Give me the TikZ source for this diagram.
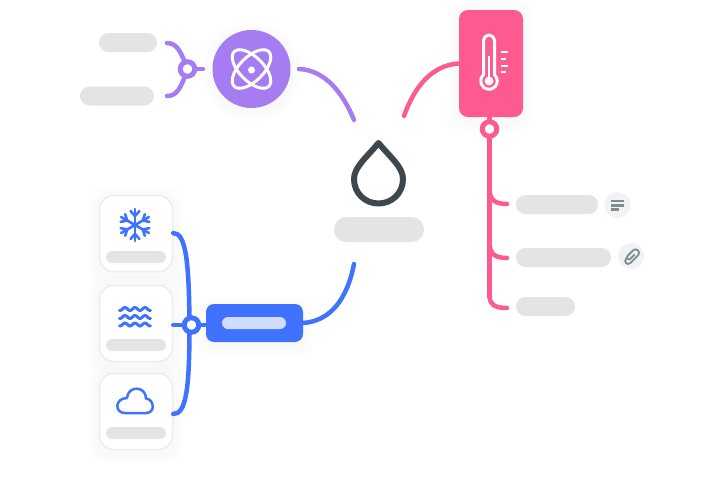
\documentclass[tikz,border=0pt]{standalone}
\usepackage{xcolor}
\usetikzlibrary{backgrounds,calc}
\definecolor{purpleline}{HTML}{A57CF2}
\definecolor{pinkline}{HTML}{FD5A8F}
\definecolor{blueline}{HTML}{3F72FF}
\definecolor{pillgray}{HTML}{E4E4E4}
\definecolor{dropgray}{HTML}{3D474D}
\definecolor{icongray}{HTML}{7F8C92}
\tikzset{
  pill/.style={fill=pillgray,rounded corners=9.5pt,inner sep=0pt,minimum height=19pt},
  smallpill/.style={fill=pillgray,rounded corners=6pt,inner sep=0pt,minimum height=12pt,minimum width=60pt},
  card/.style={draw=black!7,line width=1.5pt,fill=white,rounded corners=14pt,inner sep=0pt,minimum width=73pt,minimum height=76pt},
  hub/.style={circle,fill=white,line width=5pt,inner sep=0pt,minimum size=14.5pt},
  link/.style={line width=4.5pt,line cap=round},
  badge/.style={circle,fill=black!5,inner sep=0pt,minimum size=26pt},
  icon/.style={line width=3pt,line cap=round,line join=round},
}
\begin{document}
\begin{tikzpicture}[x=1pt,y=-1pt]
\useasboundingbox (0,0) rectangle (720,480);

% main boxes
\node[circle,fill=purpleline,inner sep=0pt,minimum size=78pt] (atom) at (251.5,69) {};
\node[fill=pinkline,rounded corners=9pt,inner sep=0pt,minimum width=64pt,minimum height=107pt] (therm) at (491,63.5) {};
\node[fill=blueline,rounded corners=8pt,inner sep=0pt,minimum width=97pt,minimum height=38pt] (rain) at (254.5,323) {};
\node[fill=blueline!25,rounded corners=6pt,inner sep=0pt,minimum width=64pt,minimum height=12pt] (rainlabel) at (254,323) {};
\node[card] (snowcard) at (136,233.5) {};
\node[card] (wavecard) at (136,323.5) {};
\node[card] (cloudcard) at (136,411.5) {};

% soft shadows
\begin{scope}[on background layer]
\fill[white] (0,0) rectangle (720,480);
\foreach \n in {therm,rain,snowcard,wavecard,cloudcard}{
\foreach \s in {2,4,...,12}{
\fill[black,opacity=0.002,rounded corners=16pt] ($(\n.south west)+(-\s,\s+3)$) rectangle ($(\n.north east)+(\s,-\s+3)$);
}}
\foreach \s in {2,4,...,12}{
\fill[black,opacity=0.002] ($(atom.center)+(0,3)$) circle (39+\s);
}
\end{scope}

% gray labels
\node[pill,minimum width=58pt] (topA) at (128,42.5) {};
\node[pill,minimum width=74pt] (topB) at (117,96) {};
\node[pill,minimum width=90pt,minimum height=25pt,rounded corners=12.5pt] (water) at (379,229.5) {};
\node[pill,minimum width=82pt] (noteA) at (557,204.5) {};
\node[pill,minimum width=95pt] (noteB) at (563.5,257.5) {};
\node[pill,minimum width=59pt] (noteC) at (545.5,306.5) {};
\node[smallpill] (snowlabel) at (136,257) {};
\node[smallpill] (wavelabel) at (136,345) {};
\node[smallpill] (cloudlabel) at (136,433) {};
\node[badge] (docbadge) at (617.5,205) {};
\node[badge] (clipbadge) at (631,256) {};

% free ends
\coordinate (dropA) at (354,120);
\coordinate (dropB) at (404,116);
\coordinate (dropC) at (354,264);
\coordinate (upP) at (167,43);
\coordinate (downP) at (167,96);
\coordinate (stubP) at (203,69);
\coordinate (endA) at (507,204);
\coordinate (endB) at (507,258);
\coordinate (endC) at (507,308);
\coordinate (midA) at (489.5,190);
\coordinate (midB) at (489.5,244);
\coordinate (midC) at (489.5,297);

% connectors
\draw[link,purpleline] (299,69) .. controls (325,70) and (343,93) .. (dropA);
\draw[link,pinkline] (dropB) .. controls (415,85) and (433,65) .. (therm.west);
\draw[link,blueline] (rain.east) .. controls (330,321) and (347,300) .. (dropC);
\draw[link,purpleline] (upP) .. controls (177,43) and (181,52) .. (187.5,69);
\draw[link,purpleline] (downP) .. controls (177,96) and (181,88) .. (187.5,69);
\draw[link,purpleline] (187.5,69) -- (stubP);
\draw[link,pinkline] (489.5,129) -- (489.5,117);
\draw[link,pinkline] (489.5,129) -- (midC);
\draw[link,pinkline] (midA) .. controls (490,199) and (494,204) .. (endA);
\draw[link,pinkline] (midB) .. controls (490,253) and (494,258) .. (endB);
\draw[link,pinkline] (midC) .. controls (490,304) and (494,308) .. (endC);
\draw[link,blueline] (snowcard.east |- 0,233) .. controls (186,233) and (189,262) .. (189.5,325);
\draw[link,blueline] (cloudcard.east |- 0,414) .. controls (186,414) and (189.5,390) .. (189.5,325);
\draw[link,blueline] (wavecard.east |- 0,325) -- (rain.west |- 0,325);

\node[hub,draw=purpleline] (hubP) at (187.5,69) {};
\node[hub,draw=pinkline] (hubT) at (489.5,129) {};
\node[hub,draw=blueline] (hubB) at (191.5,325) {};

% drop
\draw[line width=6pt,dropgray,line join=round] (378.5,143) .. controls (367,157) and (354,167) .. (354,179)
  .. controls (354,193) and (365,203.5) .. (378.5,203.5) .. controls (392,203.5) and (403,193) .. (403,179)
  .. controls (403,167) and (390,157) .. cycle;

% atom icon
\draw[icon,white,rotate around={45:(251.5,69)}] (251.5,69) ellipse (24.5 and 12);
\draw[icon,white,rotate around={-45:(251.5,69)}] (251.5,69) ellipse (24.5 and 12);
\fill[white] (251.5,70) circle (3.5);

% thermometer icon
\draw[icon,white] (483.5,74.8) -- (483.5,40.5) arc[start angle=180,end angle=360,radius=5.5] -- (494.5,74.8)
  arc[start angle=-48.4,end angle=228.4,radius=8.3];
\draw[line width=2.5pt,white] (489,56) -- (489,80);
\fill[white] (489,81) circle (4.5);
\foreach \y/\l in {52/7,59/5,66/7,72/5}{
\draw[line width=2pt,white] (501,\y) -- ++(\l,0);
}

% snowflake icon
\foreach \a in {30,90,...,330}{
\begin{scope}[shift={(135,225)},rotate=\a]
\draw[line width=2.6pt,blueline,line cap=round] (0,0) -- (16,0);
\draw[line width=2.6pt,blueline,line cap=round,line join=round] (14,-4.5) -- (9,0) -- (14,4.5);
\end{scope}
}

% waves icon
\foreach \y in {309,317,324.5}{
\draw[line width=3pt,blueline,line cap=round,smooth,samples=40,domain=119.5:150.5] plot (\x,{\y+1.5*sin(36*(\x-119)+54)});
}

% cloud icon
\draw[line width=2.5pt,blueline,line join=round] (125,413) -- (146,413)
  .. controls (156,413) and (154,399) .. (146,398.5)
  .. controls (146,386) and (128,385) .. (127,398)
  .. controls (115,398) and (114,413) .. cycle;

% note and clip icons
\foreach \y/\w in {201/13,205.5/13,209.5/8}{
\draw[line width=2.8pt,icongray] (611,\y) -- ++(\w,0);
}
\begin{scope}[shift={(631,256)},rotate=45,xshift=0.5pt,yshift=-0.5pt]
\draw[line width=1.8pt,icongray,line cap=round] (3,1) -- (-3,1) arc[start angle=90,end angle=270,radius=2]
  -- (5,-3) arc[start angle=-90,end angle=90,radius=3.5] -- (-6,4) arc[start angle=90,end angle=270,radius=3] -- (-5,-2);
\end{scope}
\end{tikzpicture}
\end{document}
